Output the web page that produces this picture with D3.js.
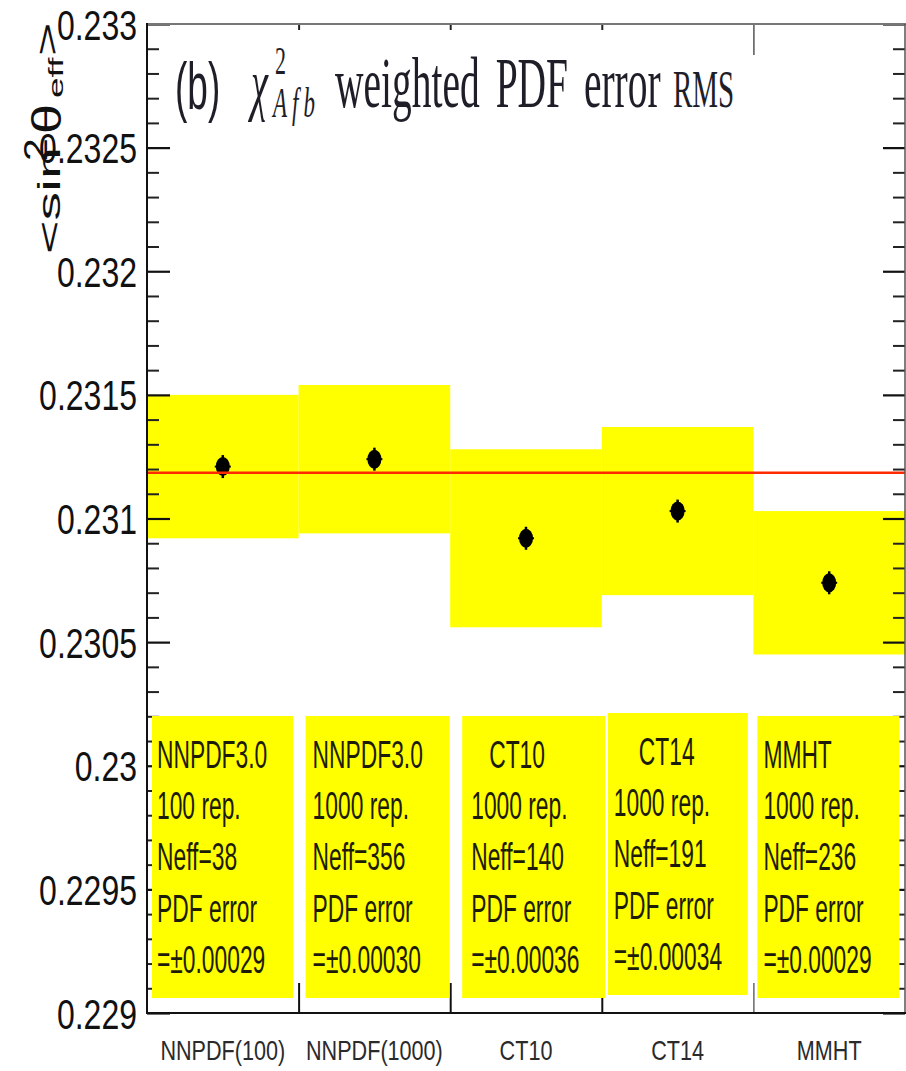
<!DOCTYPE html>
<html>
<head>
<meta charset="utf-8">
<script src="https://cdn.jsdelivr.net/npm/d3@7"></script>
<style>
  html, body { margin: 0; padding: 0; background: #fff; }
  svg { display: block; }
</style>
</head>
<body>
<svg id="chart" width="906" height="1071"></svg>
<script>
// ---- data ----
const categories    = ["NNPDF(100)", "NNPDF(1000)", "CT10", "CT14", "MMHT"];
const centralValues = [0.23121, 0.23124, 0.23092, 0.23103, 0.23074];
const pdfErrors     = [0.00029, 0.00030, 0.00036, 0.00034, 0.00029];
const pdfSetNames   = ["NNPDF3.0", "NNPDF3.0", "CT10", "CT14", "MMHT"];
const replicas      = [100, 1000, 1000, 1000, 1000];
const nEff          = [38, 356, 140, 191, 236];
const referenceValue = 0.231185;
const yTickValues   = [0.229, 0.2295, 0.23, 0.2305, 0.231, 0.2315, 0.232, 0.2325, 0.233];
const yTickLabels   = ["0.229", "0.2295", "0.23", "0.2305", "0.231", "0.2315", "0.232", "0.2325", "0.233"];

// ---- layout ----
const L = 147, R = 905, T = 24, B = 1013;
const sans = "'Liberation Sans', Arial, Helvetica, sans-serif";
const serif = "'Liberation Serif', 'Times New Roman', serif";
const yellow = "#ffff00";

const svg = d3.select("#chart");

const x = d3.scaleBand().domain(categories).range([L, R]).padding(0);
const xEdge = d3.scaleLinear().domain([0, categories.length]).range([L, R]);
const y = d3.scaleLinear().domain([0.229, 0.233]).range([B, T]);

const rows = categories.map((c, i) => ({
  cat: c, value: centralValues[i], err: pdfErrors[i],
  name: pdfSetNames[i], rep: replicas[i], neff: nEff[i]
}));

// PDF error bands
svg.append("g").selectAll("rect").data(rows).join("rect")
  .attr("x", d => x(d.cat))
  .attr("width", x.bandwidth())
  .attr("y", d => y(d.value + d.err))
  .attr("height", d => y(d.value - d.err) - y(d.value + d.err))
  .attr("fill", yellow);

// central values
const pts = svg.append("g").selectAll("g").data(rows).join("g")
  .attr("transform", d => `translate(${x(d.cat) + x.bandwidth() / 2},${y(d.value)})`);
pts.append("ellipse").attr("rx", 7).attr("ry", 9.5).attr("fill", "#000");
pts.append("line").attr("y1", -11.5).attr("y2", 11.5).attr("stroke", "#000").attr("stroke-width", 2.5);
pts.append("line").attr("x1", -8).attr("x2", 8).attr("stroke", "#000").attr("stroke-width", 2);

// reference line
svg.append("line")
  .attr("x1", L).attr("x2", R)
  .attr("y1", y(referenceValue)).attr("y2", y(referenceValue))
  .attr("stroke", "#ff2a00").attr("stroke-width", 2.5);

// ---- axes ----
function styleTicks(g, width, color) {
  g.select(".domain").remove();
  g.selectAll(".tick line").attr("stroke", color || "#000").attr("stroke-width", width);
}

const minorTicks = y.ticks(40).filter(t => !yTickValues.some(m => Math.abs(m - t) < 1e-9));

// left axis
svg.append("g").attr("transform", `translate(${L},0)`)
  .call(d3.axisLeft(y).tickValues(minorTicks).tickSizeInner(-12).tickSizeOuter(0).tickFormat(""))
  .call(g => styleTicks(g, 2, "#222"));
const leftMajor = svg.append("g").attr("transform", `translate(${L},0)`)
  .call(d3.axisLeft(y).tickValues(yTickValues).tickFormat((d, i) => yTickLabels[i])
        .tickSizeInner(-23).tickSizeOuter(0).tickPadding(10))
  .call(g => styleTicks(g, 2.2, "#111"));
leftMajor.attr("font-family", sans).attr("font-size", 32);
leftMajor.selectAll(".tick text")
  .attr("x", null).attr("dy", null).attr("fill", "#111")
  .attr("transform", "translate(-10,15) scale(1,1.3)");

// right axis
svg.append("g").attr("transform", `translate(${R},0)`)
  .call(d3.axisRight(y).tickValues(minorTicks).tickSizeInner(-12).tickSizeOuter(0).tickFormat(""))
  .call(g => styleTicks(g, 2, "#222"));
svg.append("g").attr("transform", `translate(${R},0)`)
  .call(d3.axisRight(y).tickValues(yTickValues).tickSizeInner(-22).tickSizeOuter(0).tickFormat(""))
  .call(g => styleTicks(g, 2.2, "#111"));

// bottom bin-edge ticks
const bottomEdges = svg.append("g").attr("transform", `translate(0,${B})`)
  .call(d3.axisBottom(xEdge).tickValues([1, 2, 3, 4]).tickSizeInner(-30).tickSizeOuter(0).tickFormat(""))
  .call(g => styleTicks(g, 2, "#111"));
bottomEdges.selectAll(".tick line").filter(d => d === 4).attr("stroke-width", 1.2).attr("stroke", "#444");

// top bin-edge ticks
svg.append("g").attr("transform", `translate(0,${T})`)
  .call(d3.axisTop(xEdge).tickValues([1, 2, 3]).tickSizeInner(-6).tickSizeOuter(0).tickFormat(""))
  .call(g => styleTicks(g, 2, "#222"));
svg.append("g").attr("transform", `translate(0,${T})`)
  .call(d3.axisTop(xEdge).tickValues([4]).tickSizeInner(-31).tickSizeOuter(0).tickFormat(""))
  .call(g => styleTicks(g, 1.5, "#555"));

// category labels
const catAxis = svg.append("g").attr("transform", `translate(0,${B})`)
  .call(d3.axisBottom(x).tickSize(0).tickSizeOuter(0))
  .call(g => g.select(".domain").remove());
catAxis.attr("font-family", sans).attr("font-size", 21.6);
catAxis.selectAll(".tick text")
  .attr("y", null).attr("dy", null).attr("fill", "#2a2a2a")
  .attr("transform", "translate(0,47) scale(1,1.3)");

// ---- annotation boxes ----
const boxLeft  = [5, 7, 12, 6, 4];
const boxWidth = [141, 144, 143, 140, 142];
const boxTop   = [716, 716, 716, 713, 716];
const boxH = 282;
const textIndent = [5, 7, 9, 6, 6];
const firstLineIndent = [5, 7, 27, 31, 6];

const boxes = svg.append("g").selectAll("g").data(rows).join("g")
  .attr("transform", (d, i) => `translate(${x(d.cat) + boxLeft[i]},${boxTop[i]})`);
boxes.append("rect")
  .attr("width", (d, i) => boxWidth[i]).attr("height", boxH)
  .attr("fill", yellow);
boxes.each(function (d, i) {
  const lines = [d.name, `${d.rep} rep.`, `Neff=${d.neff}`, "PDF error", `=\u00b1${d.err.toFixed(5)}`];
  d3.select(this).selectAll("text").data(lines).join("text")
    .attr("transform", (t, k) => `translate(${k === 0 ? firstLineIndent[i] : textIndent[i]},${52 + k * 51.2}) scale(0.585,1)`)
    .attr("font-family", sans).attr("font-size", 39).attr("fill", "#1c1c08")
    .text(t => t);
});

// ---- frame ----
svg.append("line").attr("x1", L).attr("x2", R + 1).attr("y1", T).attr("y2", T)
  .attr("stroke", "#777").attr("stroke-width", 2);
svg.append("line").attr("x1", R).attr("x2", R).attr("y1", T).attr("y2", B)
  .attr("stroke", "#555").attr("stroke-width", 1.5);
svg.append("line").attr("x1", L).attr("x2", L).attr("y1", T - 1).attr("y2", B + 1)
  .attr("stroke", "#111").attr("stroke-width", 2);
svg.append("line").attr("x1", L - 1).attr("x2", R + 1).attr("y1", B).attr("y2", B)
  .attr("stroke", "#111").attr("stroke-width", 2);

// ---- y-axis title: <sin^2 theta_eff> ----
const yTitle = [
  { t: "<sin", start: 254, base: 60, size: 31, s: 1.85 },
  { t: "2",    start: 161, base: 47, size: 34, s: 1.2 },
  { t: "\u03b8", start: 134, base: 61, size: 40, s: 1.35 },
  { t: "eff",  start: 98,  base: 63, size: 20, s: 1.85 },
  { t: ">",    start: 56,  base: 58, size: 31, s: 1.85 }
];
svg.append("g").selectAll("text").data(yTitle).join("text")
  .attr("transform", d => `translate(${d.base},${d.start}) rotate(-90) scale(${d.s},1)`)
  .attr("font-family", sans).attr("font-size", d => d.size).attr("fill", "#111")
  .text(d => d.t);

// ---- plot title: (b) chi^2_Afb weighted PDF error RMS ----
// one text element, stretched vertically; tspan y values are baselines / 1.8
const sy = 1.8;
const title = svg.append("text")
  .attr("transform", `scale(1,${sy})`)
  .attr("fill", "#1e1e28");
title.append("tspan").attr("x", 175).attr("y", 109 / sy)
  .attr("font-family", sans).attr("font-size", 37).text("(b)");
title.append("tspan").attr("x", 251).attr("y", 107 / sy)
  .attr("font-family", serif).attr("font-style", "italic").attr("font-size", 38.5).text("\u03c7");
title.append("tspan").attr("x", 275).attr("y", 74 / sy)
  .attr("font-family", serif).attr("font-size", 22).text("2");
title.append("tspan").attr("x", 273).attr("y", 117 / sy)
  .attr("font-family", serif).attr("font-style", "italic").attr("font-size", 23)
  .attr("letter-spacing", 5).text("Afb");
title.append("tspan").attr("x", 335).attr("y", 107 / sy)
  .attr("font-family", serif).attr("font-size", 39.5).attr("letter-spacing", 0)
  .attr("word-spacing", 6).text("weighted PDF error");
title.append("tspan").attr("x", 673).attr("y", 107 / sy)
  .attr("font-family", serif).attr("font-size", 29).attr("word-spacing", 0).text("RMS");
</script>
</body>
</html>
